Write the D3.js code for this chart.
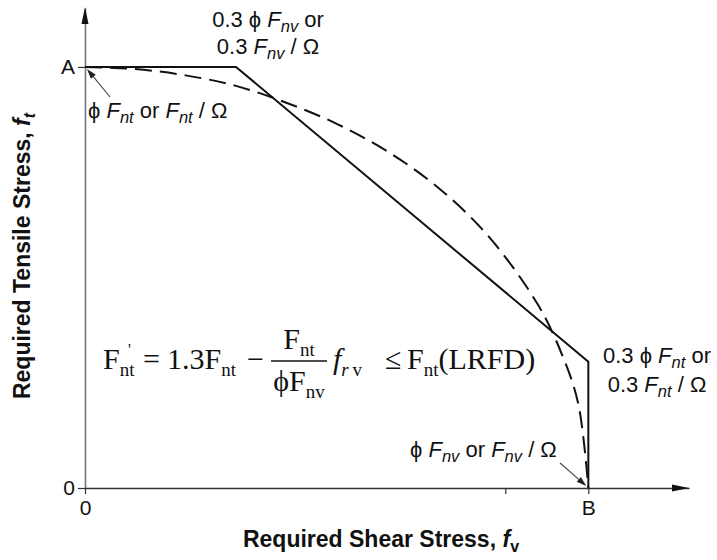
<!DOCTYPE html>
<html>
<head>
<meta charset="utf-8">
<script src="https://cdn.jsdelivr.net/npm/d3@7"></script>
<style>
  body { margin: 0; background: #fff; }
  svg { display: block; }
</style>
</head>
<body>
<svg width="717" height="560"></svg>
<script>
  // interaction curves, in units of the nominal strengths (x: Fnv, y: Fnt)
  const solidX = [0, 0.3, 1, 1];
  const solidY = [1, 1, 0.3, 0];
  const dashX = [0, 0.1, 0.2, 0.3, 0.4, 0.5, 0.6, 0.7, 0.8, 0.9, 0.95, 0.98, 1];
  const dashY = [1, 0.995, 0.98, 0.955, 0.915, 0.865, 0.8, 0.715, 0.6, 0.435, 0.31, 0.2, 0];

  const xTicks = [0, 0.835, 1];
  const xTickLabels = ['0', '', 'B'];
  const yTicks = [0, 1];
  const yTickLabels = ['0', 'A'];

  const svg = d3.select('svg');
  const sans = '"Liberation Sans", Arial, sans-serif';
  const serif = '"Liberation Serif", "Times New Roman", serif';

  const x = d3.scaleLinear().domain([0, 1.2]).range([85, 689]);
  const y = d3.scaleLinear().domain([0, 1.14]).range([488, 8]);

  // axes
  const yAxisG = svg.append('g')
    .attr('transform', `translate(${x(0)},0)`)
    .call(d3.axisLeft(y)
      .tickValues(yTicks)
      .tickFormat((d, i) => yTickLabels[i])
      .tickSize(7)
      .tickSizeOuter(0)
      .tickPadding(3));
  yAxisG.select('.domain').attr('stroke', '#777').attr('stroke-width', 1.6);
  yAxisG.selectAll('.tick line').attr('stroke', '#333').attr('stroke-width', 1.2);
  yAxisG.selectAll('.tick text')
    .attr('fill', '#111')
    .style('font', `21px ${sans}`);

  const xAxisG = svg.append('g')
    .attr('transform', `translate(0,${y(0)})`)
    .call(d3.axisBottom(x)
      .tickValues(xTicks)
      .tickFormat((d, i) => xTickLabels[i])
      .tickSize(6)
      .tickSizeOuter(0)
      .tickPadding(6));
  xAxisG.select('.domain').attr('stroke', '#333').attr('stroke-width', 1.6);
  xAxisG.selectAll('.tick line').attr('stroke', '#333').attr('stroke-width', 1.2);
  xAxisG.selectAll('.tick text')
    .attr('fill', '#111')
    .style('font', `21px ${sans}`);

  // axis arrowheads
  const x0 = x(0), y0 = y(0), xEnd = x(1.2), yEnd = y(1.14);
  svg.append('path')
    .attr('d', `M${x0},${yEnd - 1}L${x0 - 3.5},${yEnd + 16}L${x0 + 3.5},${yEnd + 16}Z`)
    .attr('fill', '#111');
  svg.append('path')
    .attr('d', `M${xEnd},${y0}L${xEnd - 17},${y0 - 3.5}L${xEnd - 17},${y0 + 3.5}Z`)
    .attr('fill', '#111');

  // curves
  const solid = solidX.map((d, i) => [d, solidY[i]]);
  const dashed = dashX.map((d, i) => [d, dashY[i]]);

  svg.append('path')
    .datum(dashed)
    .attr('fill', 'none')
    .attr('stroke', '#111')
    .attr('stroke-width', 2)
    .attr('stroke-dasharray', '17,8')
    .attr('d', d3.line().x(d => x(d[0])).y(d => y(d[1])).curve(d3.curveCatmullRom));

  svg.append('path')
    .datum(solid)
    .attr('fill', 'none')
    .attr('stroke', '#111')
    .attr('stroke-width', 2)
    .attr('d', d3.line().x(d => x(d[0])).y(d => y(d[1])));

  // rich text helper: parts = [text, italic, subscript]
  const rich = (px, py, parts, opts) => {
    const { size, anchor = 'start', family = sans, subSize = size * 0.75, subDy = size * 0.22 } = opts;
    const t = svg.append('text')
      .attr('x', px).attr('y', py)
      .attr('text-anchor', anchor)
      .attr('fill', '#111')
      .style('font-family', family)
      .style('font-size', size + 'px')
      .attr('font-weight', opts.bold ? 'bold' : 'normal');
    let down = false;
    parts.forEach(([s, it, sub]) => {
      const sp = t.append('tspan').text(s);
      if (it) sp.attr('font-style', 'italic');
      if (sub && !down) { sp.attr('dy', subDy).style('font-size', subSize + 'px'); down = true; }
      else if (sub) sp.style('font-size', subSize + 'px');
      else if (down) { sp.attr('dy', -subDy); down = false; }
    });
    return t;
  };

  // annotations
  const note = { size: 22 };
  rich(268, 27, [['0.3 \u03d5 '], ['F', true], ['nv', true, true], [' or']], { ...note, anchor: 'middle' });
  rich(268, 54, [['0.3 '], ['F', true], ['nv', true, true], [' / \u03a9']], { ...note, anchor: 'middle' });
  rich(88, 118, [['\u03d5 '], ['F', true], ['nt', true, true], [' or '], ['F', true], ['nt', true, true], [' / \u03a9']], note);
  rich(657, 363, [['0.3 \u03d5 '], ['F', true], ['nt', true, true], [' or']], { ...note, anchor: 'middle' });
  rich(657, 392, [['0.3 '], ['F', true], ['nt', true, true], [' / \u03a9']], { ...note, anchor: 'middle' });
  rich(410, 457, [['\u03d5 '], ['F', true], ['nv', true, true], [' or '], ['F', true], ['nv', true, true], [' / \u03a9']], note);

  // pointer arrows
  const pointer = (x1, y1, x2, y2) => {
    const a = Math.atan2(y2 - y1, x2 - x1), L = 10, W = 3.2;
    const bx = x2 - Math.cos(a) * L, by = y2 - Math.sin(a) * L;
    svg.append('line')
      .attr('x1', x1).attr('y1', y1).attr('x2', bx).attr('y2', by)
      .attr('stroke', '#444').attr('stroke-width', 1.1);
    svg.append('path')
      .attr('d', `M${x2},${y2}L${bx - Math.sin(a) * W},${by + Math.cos(a) * W}L${bx + Math.sin(a) * W},${by - Math.cos(a) * W}Z`)
      .attr('fill', '#222');
  };
  pointer(110, 97, x(0) + 2, y(1) + 2);
  pointer(560, 463, x(1) - 2, y(0) - 2);

  // interaction equation
  const eq = { size: 30, family: serif, subSize: 19, subDy: 7 };
  rich(103, 369, [['F'], ['nt', false, true]], eq);
  svg.append('text').attr('x', 128).attr('y', 355)
    .style('font', `16px ${serif}`).attr('fill', '#111').text("'");
  rich(143, 369, [['=']], eq);
  rich(167, 369, [['1.3F'], ['nt', false, true]], eq);
  rich(247, 369, [['\u2212']], eq);
  rich(299, 349, [['F'], ['nt', false, true]], { ...eq, anchor: 'middle' });
  svg.append('line')
    .attr('x1', 271).attr('x2', 327).attr('y1', 361).attr('y2', 361)
    .attr('stroke', '#111').attr('stroke-width', 1.3);
  rich(299, 391, [['\u03d5F'], ['nv', false, true]], { ...eq, anchor: 'middle' });
  rich(333, 369, [['f', true], ['r', true, true], ['\u2009v', false, true]], eq);
  rich(385, 369, [['\u2264']], eq);
  rich(407, 369, [['F'], ['nt', false, true], ['(LRFD)']], eq);

  // axis titles
  rich(381, 547, [['Required Shear Stress, '], ['f', true], ['v', false, true]], { size: 23, anchor: 'middle', bold: true, subSize: 16 });
  rich(0, 0, [['Required Tensile Stress, '], ['f', true], ['t', true, true]], { size: 23, anchor: 'middle', bold: true, subSize: 16 })
    .attr('transform', 'translate(30,256) rotate(-90)');
</script>
</body>
</html>
